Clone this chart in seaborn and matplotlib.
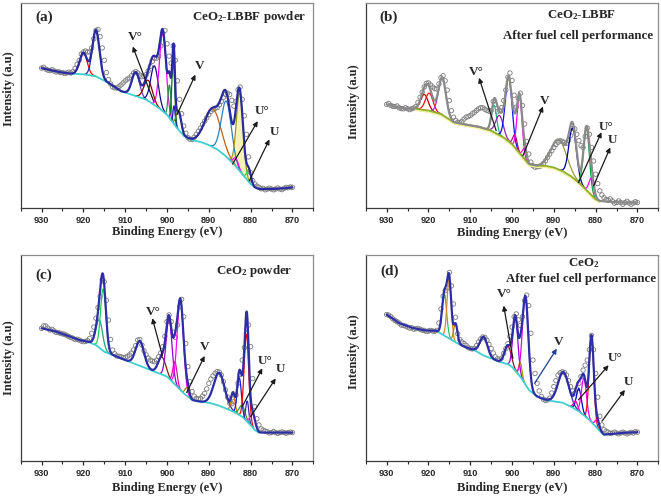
import numpy as np
import pandas as pd
import matplotlib
matplotlib.use('Agg')
import matplotlib.pyplot as plt
import seaborn as sns

# Binding energy of the measured points (eV), 930 -> 870 in 0.5 eV steps
ENERGY = np.arange(930, 869.9, -0.5)

# ---- (a) CeO2-LBBF powder ----
A_COUNTS = [68.2, 68.6, 67.7, 67.2, 67.0, 67.4, 66.8, 66.3, 66.5, 66.0,
            66.0, 65.6, 65.8, 66.2, 65.8, 66.5, 68.0, 70.0, 72.0, 75.0,
            76.0, 76.5, 76.0, 76.0, 78.0, 82.5, 86.5, 87.0, 83.5, 78.0,
            72.0, 66.0, 62.6, 60.5, 59.0, 58.6, 58.5, 59.2, 60.0, 61.0,
            62.0, 62.8, 63.4, 64.5, 65.8, 66.5, 65.8, 64.8, 64.0, 64.2,
            65.0, 66.8, 69.0, 71.5, 73.0, 73.0, 74.0, 79.0, 85.0, 86.5,
            80.0, 74.0, 70.6, 79.0, 72.0, 62.0, 53.0, 46.0, 40.0, 36.5,
            34.4, 33.6, 33.5, 34.6, 36.0, 37.5, 39.0, 40.8, 42.4, 44.0,
            45.6, 47.0, 48.0, 48.6, 49.0, 50.3, 52.0, 54.0, 55.3, 56.0,
            55.3, 52.5, 49.7, 52.0, 57.7, 59.0, 53.0, 45.0, 36.0, 25.0,
            17.4, 13.5, 11.8, 10.8, 10.2, 9.5, 9.7, 9.0, 9.4, 9.8,
            9.4, 9.0, 9.4, 9.9, 9.4, 9.1, 9.7, 10.2, 10.0, 10.4, 10.2]
A_BG_E = [930, 927, 925, 923, 920, 917, 914, 911, 908, 905, 902, 900, 898, 896,
          894, 892, 890, 888, 886, 884, 882, 880, 879, 878, 875, 872, 870]
A_BG_Y = [68.2, 66.8, 66.0, 65.5, 65.2, 64.2, 61.0, 57.0, 55.0, 52.9, 48.9, 45.6,
          40.0, 35.2, 33.2, 32.3, 30.8, 28.7, 25.5, 21.5, 16.6, 11.8, 10.2, 9.4,
          9.4, 9.7, 10.2]
A_CENTERS = [920.0, 917.0, 907.5, 904.5, 903.0, 901.0, 899.4, 898.5, 898.3,
             897.2, 889.0, 885.8, 882.6, 883.5, 880.4]
A_HEIGHTS = [10.5, 22.5, 11.5, 10.0, 19.0, 38.0, 16.0, 30.0, 9.0,
             9.0, 18.5, 27.0, 38.0, 4.0, 6.0]
A_WIDTHS = [0.9, 0.85, 0.9, 1.0, 0.9, 0.8, 0.35, 0.35, 0.25,
            0.6, 1.9, 1.2, 0.8, 0.6, 0.5]

# ---- (b) CeO2-LBBF after fuel cell performance ----
B_COUNTS = [50.5, 51.0, 50.0, 49.6, 49.5, 49.8, 48.9, 48.5, 48.4, 48.9,
            48.4, 48.0, 48.4, 48.8, 49.5, 51.5, 54.0, 56.5, 59.0, 60.8,
            61.0, 60.0, 59.0, 58.2, 58.0, 60.5, 63.5, 64.5, 62.0, 57.5,
            52.4, 47.5, 44.3, 42.8, 41.9, 41.6, 42.3, 43.4, 44.3, 44.6,
            45.1, 46.0, 46.7, 47.6, 48.4, 48.9, 48.9, 48.2, 47.6, 47.2,
            47.6, 52.0, 50.5, 47.0, 47.6, 49.0, 52.4, 57.5, 63.8, 65.8,
            62.2, 55.0, 49.2, 53.5, 56.0, 50.0, 41.0, 32.5, 26.4, 22.5,
            20.7, 20.0, 20.2, 20.3, 20.7, 21.8, 23.1, 24.8, 26.4, 28.0,
            29.6, 31.0, 32.1, 32.8, 32.6, 32.0, 31.6, 33.0, 35.3, 38.8,
            38.6, 36.0, 32.9, 30.5, 29.6, 35.0, 39.0, 36.0, 29.6, 23.0,
            16.6, 12.0, 8.5, 6.5, 5.2, 4.3, 3.9, 4.6, 3.6, 2.5,
            2.8, 3.6, 2.8, 2.0, 2.8, 3.4, 2.6, 2.0, 2.6, 3.2, 2.8]
B_BG_E = [930, 927, 925, 923, 920, 917, 914, 911, 908, 905, 902, 900, 898, 896,
          894, 892, 890, 888, 886, 884, 882, 880, 879, 876, 873, 870]
B_BG_Y = [50.5, 48.9, 48.4, 48.4, 47.6, 45.9, 41.9, 40.7, 39.7, 37.8, 34.5, 31.3,
          26.4, 21.5, 20.7, 20.7, 19.9, 18.2, 15.8, 12.5, 8.5, 4.4, 3.6, 3.0,
          2.8, 2.8]
B_CENTERS = [921.0, 919.8, 916.7, 904.3, 903.0, 900.8, 899.3, 898.2, 897.0,
             888.8, 885.5, 882.2, 881.0]
B_HEIGHTS = [7.5, 8.5, 18.0, 13.0, 9.5, 31.0, 6.0, 28.0, 5.0,
             14.5, 24.0, 30.0, 8.0]
B_WIDTHS = [0.9, 0.9, 0.9, 0.6, 0.9, 0.8, 0.5, 0.6, 0.5,
            1.8, 0.9, 0.7, 0.6]

# ---- (c) CeO2 powder ----
C_COUNTS = [64.4, 65.6, 65.5, 64.5, 63.6, 63.9, 63.1, 62.4, 62.3, 62.0,
            61.7, 61.5, 61.0, 60.4, 60.0, 59.6, 59.0, 59.1, 58.7, 58.2,
            57.9, 58.0, 58.4, 59.5, 62.0, 65.0, 69.3, 74.5, 79.8, 88.0,
            87.0, 78.0, 68.4, 59.0, 53.9, 52.0, 51.0, 50.8, 50.6, 50.2,
            50.3, 50.8, 51.5, 52.4, 53.9, 56.0, 58.7, 59.0, 56.3, 53.5,
            51.5, 50.0, 49.0, 48.5, 48.2, 49.0, 50.6, 52.5, 55.5, 60.5,
            67.6, 70.9, 67.6, 62.5, 60.0, 66.0, 74.9, 78.5, 70.0, 57.0,
            45.8, 38.5, 33.7, 31.5, 30.4, 30.0, 30.4, 31.5, 32.8, 35.0,
            37.7, 39.8, 41.3, 42.6, 43.4, 43.2, 41.7, 38.5, 34.5, 31.0,
            28.0, 27.8, 28.8, 32.0, 37.7, 42.0, 49.0, 55.0, 62.0, 66.0,
            55.5, 40.0, 26.4, 20.5, 17.5, 15.6, 15.0, 14.5, 14.2, 13.6,
            13.8, 14.3, 13.8, 13.4, 13.8, 14.1, 13.8, 13.5, 13.8, 14.0, 13.8]
C_BG_E = [930, 927, 924, 921, 919, 917, 915, 913, 910, 907, 904, 902, 900, 898,
          896, 894, 892, 890, 888, 886, 884, 882, 880, 879, 878, 875, 870]
C_BG_Y = [64.4, 63.1, 61.0, 58.7, 57.9, 56.3, 53.0, 51.5, 49.0, 46.6, 44.2, 42.6,
          41.0, 36.9, 32.8, 29.6, 28.8, 28.3, 27.2, 25.6, 23.9, 21.5, 17.5, 15.0,
          13.8, 13.8, 13.8]
C_CENTERS = [916.2, 915.25, 906.5, 901.2, 899.5, 898.1, 896.8, 895.2, 887.5,
             884.2, 882.7, 882.0, 881.0, 880.8, 879.5]
C_HEIGHTS = [13.5, 30.0, 12.0, 8.5, 29.0, 11.0, 44.0, 4.0, 16.0,
             8.5, 18.0, 5.5, 42.0, 10.0, 7.0]
C_WIDTHS = [0.8, 0.65, 1.0, 0.9, 0.7, 0.5, 0.75, 0.5, 1.3,
            0.45, 0.5, 0.7, 0.55, 0.35, 0.6]

# ---- (d) CeO2 after fuel cell performance ----
D_COUNTS = [71.1, 70.8, 70.1, 69.0, 68.2, 67.6, 66.9, 66.0, 65.8, 65.5,
            65.0, 64.5, 64.7, 64.0, 64.2, 64.4, 63.9, 63.5, 63.4, 62.8,
            63.1, 63.4, 63.1, 62.9, 63.4, 67.0, 73.8, 80.0, 82.7, 84.0,
            91.5, 85.0, 76.2, 69.8, 61.8, 59.0, 57.8, 57.0, 56.2, 55.2,
            54.6, 54.4, 54.6, 56.0, 57.8, 59.2, 60.2, 60.0, 58.6, 56.6,
            54.6, 52.4, 50.6, 49.6, 49.0, 50.0, 52.2, 54.5, 57.0, 60.5,
            65.0, 70.0, 71.4, 68.5, 65.8, 70.0, 77.8, 80.5, 75.4, 62.0,
            49.0, 42.5, 37.7, 34.0, 31.3, 30.0, 29.4, 29.6, 30.5, 33.0,
            36.1, 39.0, 41.7, 42.8, 43.3, 43.0, 41.7, 39.0, 36.1, 34.0,
            32.9, 35.0, 37.7, 41.0, 44.1, 46.5, 49.0, 54.0, 61.0, 54.0,
            42.5, 31.0, 21.7, 17.5, 15.2, 14.5, 14.0, 13.4, 13.6, 14.0,
            13.6, 13.2, 13.6, 14.0, 13.6, 13.2, 13.6, 13.9, 13.6, 14.2, 14.0]
D_BG_E = [930, 927, 924, 921, 918, 917, 915, 913, 911, 909, 907, 905, 903, 901,
          900, 898, 896, 894, 892, 890, 888, 886, 884, 882, 880, 879, 878, 877,
          874, 870]
D_BG_Y = [71.1, 66.9, 64.7, 63.4, 63.1, 61.8, 59.4, 57.0, 55.1, 53.8, 51.4, 49.8,
          48.2, 47.0, 45.7, 40.9, 34.5, 31.3, 29.7, 28.9, 28.4, 26.5, 24.1, 20.9,
          16.9, 14.4, 12.8, 13.0, 13.6, 14.0]
D_CENTERS = [916.2, 915.05, 913.5, 906.8, 901.0, 899.2, 898.0, 896.8, 887.7,
             884.0, 884.8, 882.8, 881.0, 879.6]
D_HEIGHTS = [20.0, 29.0, 9.0, 9.0, 9.0, 26.0, 7.0, 43.0, 15.0,
             11.0, 4.0, 18.0, 42.0, 4.0]
D_WIDTHS = [0.55, 0.5, 0.45, 0.9, 0.8, 0.6, 0.4, 0.7, 1.3,
            0.6, 0.5, 0.6, 0.55, 0.5]

# component colours (style only)
A_COLORS = ['#ff0000', '#2323b8', '#6a3fb5', '#8b0000', '#10108c', '#ff00ff',
            '#2e8b57', '#008000', '#2323b8', '#6b8e23', '#c0600f', '#2f7fbf',
            '#9a9a1a', '#ff00ff', '#33cc33']
B_COLORS = ['#b00000', '#ff1010', '#9932cc', '#20b080', '#8e24aa', '#1010e0',
            '#c0007f', '#ff00ff', '#ff00ff', '#9a9a3a', '#000099', '#00a040',
            '#ff00ff']
C_COLORS = ['#11aa77', '#22cc55', '#2b2b9b', '#8b1a1a', '#9400d3', '#e0109f',
            '#ff00ff', '#8b8b00', '#3030a0', '#cc7a00', '#1a1adc', '#2ca02c',
            '#ff0000', '#2e2ea6', '#ff33cc']
D_COLORS = ['#33bb66', '#cc8833', '#b8860b', '#3333aa', '#8b1a1a', '#9400d3',
            '#a0a000', '#dd00dd', '#2a2aa5', '#0000cc', '#ff00aa', '#ff00ff',
            '#ff0000', '#ff00ff']

PANELS = [
    dict(counts=A_COUNTS, bg_e=A_BG_E, bg_y=A_BG_Y, centers=A_CENTERS,
         heights=A_HEIGHTS, widths=A_WIDTHS, colors=A_COLORS,
         env='#2b2ba0', bg='#3fcfcf', bg_span=(923, 878), fill=12,
         rect=[0.0313, 0.5817, 0.4427, 0.4129], tag='(a)', tag_xy=(0.08, 0.93),
         ylab_y=0.58, xlab_y=-0.087,
         titles=[('CeO$_2$-LBBF powder', 0.975, 0.93, 'right')],
         arrows=[('V°', (907.6, 83.2), (908.2, 78.7), (903.2, 52.1), 'k'),
                 ('V', (892.2, 69.0), (893.2, 65.0), (897.6, 45.6), 'k'),
                 ('U°', (877.3, 47.3), (878.3, 42.4), (884.3, 21.5), 'k'),
                 ('U', (874.2, 37.1), (875.5, 33.5), (880.3, 13.4), 'k')]),
    dict(counts=B_COUNTS, bg_e=B_BG_E, bg_y=B_BG_Y, centers=B_CENTERS,
         heights=B_HEIGHTS, widths=B_WIDTHS, colors=B_COLORS,
         env='#8a8a8a', bg='#8fae2f', bg_span=(923, 879), fill=None,
         rect=[0.5533, 0.5817, 0.4427, 0.4129], tag='(b)', tag_xy=(0.078, 0.93),
         ylab_y=0.52, xlab_y=-0.09,
         titles=[('CeO$_2$-LBBF', 0.738, 0.94, 'center'),
                 ('After fuel cell performance', 0.727, 0.838, 'center')],
         arrows=[('V°', (908.5, 66.3), (907.9, 63.5), (903.8, 37.8), 'k'),
                 ('V', (892.2, 52.4), (892.6, 49.5), (897.4, 25.6), 'k'),
                 ('U°', (877.5, 39.6), (878.6, 37.0), (884.1, 12.5), 'k'),
                 ('U', (875.9, 33.0), (876.5, 29.6), (880.5, 10.9), 'k')]),
    dict(counts=C_COUNTS, bg_e=C_BG_E, bg_y=C_BG_Y, centers=C_CENTERS,
         heights=C_HEIGHTS, widths=C_WIDTHS, colors=C_COLORS,
         env='#2e2ea6', bg='#3fcfcf', bg_span=(919, 878), fill=None,
         rect=[0.0313, 0.0743, 0.4427, 0.4137], tag='(c)', tag_xy=(0.079, 0.903),
         ylab_y=0.5, xlab_y=-0.102,
         titles=[('CeO$_2$ powder', 0.798, 0.924, 'center')],
         arrows=[('V°', (903.2, 72.5), (903.5, 69.3), (901.1, 51.0), 'k'),
                 ('V', (891.1, 55.5), (891.0, 51.0), (895.3, 33.2), 'k'),
                 ('U°', (876.6, 48.7), (877.2, 45.0), (882.0, 26.4), 'k'),
                 ('U', (872.8, 44.5), (874.0, 40.1), (880.0, 21.5), 'k')]),
    dict(counts=D_COUNTS, bg_e=D_BG_E, bg_y=D_BG_Y, centers=D_CENTERS,
         heights=D_HEIGHTS, widths=D_WIDTHS, colors=D_COLORS,
         env='#2e2ea6', bg='#3fcfcf', bg_span=(918, 877), fill=None,
         rect=[0.5533, 0.0743, 0.4427, 0.4137], tag='(d)', tag_xy=(0.083, 0.919),
         ylab_y=0.53, xlab_y=-0.10,
         titles=[('CeO$_2$', 0.746, 0.961, 'center'),
                 ('After fuel cell performance', 0.736, 0.882, 'center')],
         arrows=[('V°', (901.8, 81.0), (902.0, 75.4), (899.8, 49.8), 'k'),
                 ('V', (888.9, 57.8), (889.3, 54.5), (894.6, 37.7), '#1f3f8f'),
                 ('U°', (875.4, 49.8), (876.9, 46.5), (884.1, 29.7), 'k'),
                 ('U', (872.2, 38.5), (873.0, 34.5), (878.5, 19.3), 'k')]),
]

SERIF = 'Liberation Serif'
SANS = 'Liberation Sans'


def gauss(x, c, h, w):
    return h * np.exp(-0.5 * ((x - c) / w) ** 2)


def draw_panel(fig, p):
    ax = fig.add_axes(p['rect'])
    e_fine = np.arange(930, 869.99, -0.05)
    base = np.interp(e_fine, p['bg_e'][::-1], p['bg_y'][::-1])

    # measured points
    df = pd.DataFrame({'energy': ENERGY, 'counts': p['counts']})
    sns.scatterplot(data=df, x='energy', y='counts', ax=ax, marker='o', s=10,
                    color='#7a7a7a', facecolor='none', edgecolor='#7a7a7a',
                    linewidth=0.6, zorder=1, legend=False)

    # fitted components sitting on the background
    total = np.zeros_like(e_fine)
    for i, (c, h, w) in enumerate(zip(p['centers'], p['heights'], p['widths'])):
        comp = gauss(e_fine, c, h, w)
        total += comp
        m = np.abs(e_fine - c) <= 3.2 * w
        if p['fill'] == i:
            ax.fill_between(e_fine[m], base[m], base[m] + comp[m],
                            color='#f6f3b8', lw=0, zorder=1.5)
        sns.lineplot(x=e_fine[m], y=base[m] + comp[m], ax=ax, color=p['colors'][i],
                     lw=0.9, estimator=None, sort=False, zorder=2)

    # background
    lo, hi = p['bg_span'][1], p['bg_span'][0]
    m = (e_fine >= lo) & (e_fine <= hi)
    if p['env'] == '#8a8a8a':
        sns.lineplot(x=e_fine[m], y=base[m] - 0.6, ax=ax, color='#f2ee9a',
                     lw=1.6, estimator=None, sort=False, zorder=2.5)
    sns.lineplot(x=e_fine[m], y=base[m], ax=ax, color=p['bg'], lw=1.3,
                 estimator=None, sort=False, zorder=3)

    # envelope
    sns.lineplot(x=e_fine, y=base + total, ax=ax, color=p['env'], lw=1.6,
                 estimator=None, sort=False, zorder=4)

    for txt, txy, head, tail, col in p['arrows']:
        ax.annotate('', xy=head, xytext=tail,
                    arrowprops=dict(arrowstyle='-|>', color=col, lw=0.9,
                                    mutation_scale=7, shrinkA=0, shrinkB=0),
                    zorder=5)
        ax.text(txy[0], txy[1], txt, ha='center', va='center', fontsize=9.5,
                fontweight='bold', family=SERIF, zorder=6)

    ax.text(*p['tag_xy'], p['tag'], transform=ax.transAxes, ha='center',
            va='center', fontsize=11, fontweight='bold', family=SERIF)
    for txt, x, y, ha in p['titles']:
        ax.text(x, y, txt, transform=ax.transAxes, ha=ha, va='center',
                fontsize=9.3, fontweight='bold', family=SERIF)

    ax.set_xlim(935, 865)
    ax.set_ylim(0, 100)
    ax.set_xticks(range(930, 869, -10))
    ax.set_xticks(range(935, 864, -10), minor=True)
    ax.set_yticks([])
    ax.tick_params(axis='x', which='major', direction='out', length=3, width=0.9,
                   pad=2.5, labelsize=6.6, bottom=True)
    ax.tick_params(axis='x', which='minor', direction='out', length=2, width=0.8,
                   bottom=True)
    for lab in ax.get_xticklabels():
        lab.set_fontweight('bold')
        lab.set_family(SANS)
    ax.set_xlabel('Binding Energy (eV)', fontsize=9, fontweight='bold', family=SERIF)
    ax.set_ylabel('Intensity (a.u)', fontsize=9, fontweight='bold', family=SERIF)
    ax.xaxis.set_label_coords(0.5, p['xlab_y'])
    ax.yaxis.set_label_coords(-0.02, p['ylab_y'])
    for side in ['left', 'bottom']:
        ax.spines[side].set_color('#3a3a3a')
        ax.spines[side].set_linewidth(0.9)
    for side in ['top', 'right']:
        ax.spines[side].set_color('#8c8c8c')
        ax.spines[side].set_linewidth(0.9)
    return ax


def main():
    sns.set_theme(style='white')
    plt.rcParams['font.family'] = [SERIF, 'DejaVu Serif']
    plt.rcParams['mathtext.fontset'] = 'custom'
    plt.rcParams['mathtext.rm'] = 'Liberation Serif:bold'
    plt.rcParams['mathtext.bf'] = 'Liberation Serif:bold'
    plt.rcParams['mathtext.default'] = 'bf'

    fig = plt.figure(figsize=(6.61, 4.98), dpi=100)
    for p in PANELS:
        draw_panel(fig, p)
    fig.savefig('out.png', dpi=100, facecolor='white')
    plt.close(fig)


if __name__ == '__main__':
    main()
